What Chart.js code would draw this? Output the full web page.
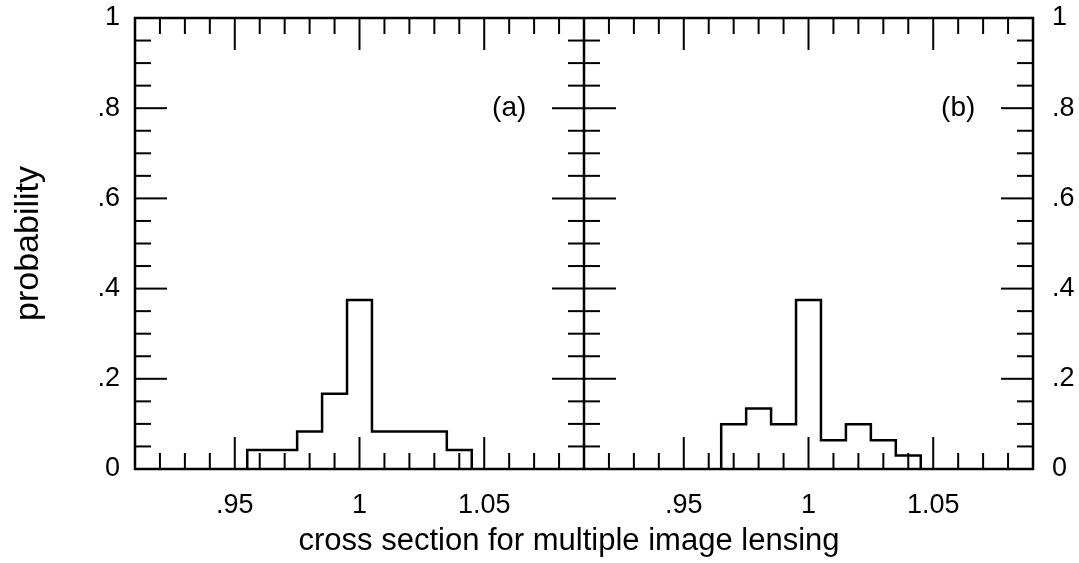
<!DOCTYPE html>
<html>
<head>
<meta charset="utf-8">
<script src="https://cdn.jsdelivr.net/npm/chart.js@4/dist/chart.umd.min.js"></script>
<style>
  html, body { margin: 0; padding: 0; background: #fff; }
  #wrap { width: 1079px; height: 563px; }
</style>
</head>
<body>
<div id="wrap"><canvas id="grafica"></canvas></div>
<script>
// histogram bins (bin centres, width 0.01)
const binsA = [0.96, 0.97, 0.98, 0.99, 1.00, 1.01, 1.02, 1.03, 1.04];
const probA = [0.042, 0.042, 0.083, 0.167, 0.375, 0.083, 0.083, 0.083, 0.042];
const binsB = [0.97, 0.98, 0.99, 1.00, 1.01, 1.02, 1.03, 1.04];
const probB = [0.099, 0.134, 0.099, 0.375, 0.064, 0.099, 0.064, 0.030];
const binWidth = 0.01;

const xTickValues = [0.95, 1, 1.05];
const xTickLabels = ['.95', '1', '1.05'];
const yTickValues = [0, 0.2, 0.4, 0.6, 0.8, 1];
const yTickLabels = ['0', '.2', '.4', '.6', '.8', '1'];
const panelLabels = ['(a)', '(b)'];
const xTitle = 'cross section for multiple image lensing';

const FONT = "'Liberation Sans', Arial, Helvetica, sans-serif";
Chart.defaults.color = '#000';
Chart.defaults.font.family = FONT;

// outline of a histogram as step points
function stepPoints(bins, vals) {
  const pts = [{ x: bins[0] - binWidth / 2, y: 0 }];
  bins.forEach((c, i) => pts.push({ x: c - binWidth / 2, y: vals[i] }));
  pts.push({ x: bins[bins.length - 1] + binWidth / 2, y: 0 });
  return pts;
}

function labelFor(values, labels) {
  return v => {
    const i = values.findIndex(t => Math.abs(t - v) < 1e-6);
    return i < 0 ? '' : labels[i];
  };
}
const isMajor = (values, v) => values.some(t => Math.abs(t - v) < 1e-6);

// ticks drawn inside the frame, frame, panel labels and x title
const frameTicks = {
  id: 'frameTicks',
  afterDatasetsDraw(chart) {
    const { ctx, chartArea: a, scales } = chart;
    const line = (x1, y1, x2, y2) => {
      ctx.beginPath(); ctx.moveTo(x1, y1); ctx.lineTo(x2, y2); ctx.stroke();
    };
    ctx.save();
    ctx.strokeStyle = '#000';
    ctx.lineWidth = 2;
    ['xa', 'xb'].forEach(id => {
      const s = scales[id];
      s.ticks.forEach(t => {
        const px = s.getPixelForValue(t.value);
        const len = isMajor(xTickValues, t.value) ? 32 : 16;
        line(px, a.bottom, px, a.bottom - len);
        line(px, a.top, px, a.top + len);
      });
    });
    const y = scales.y;
    const mid = scales.xa.right;
    y.ticks.forEach(t => {
      const py = y.getPixelForValue(t.value);
      const len = isMajor(yTickValues, t.value) ? 32 : 16;
      line(a.left, py, a.left + len, py);
      line(mid - len, py, mid + len, py);
      line(a.right - len, py, a.right, py);
    });
    ctx.lineWidth = 2.5;
    ctx.strokeRect(a.left, a.top, a.right - a.left, a.bottom - a.top);
    line(mid, a.top, mid, a.bottom);

    ctx.fillStyle = '#000';
    ctx.font = '28px ' + FONT;
    ctx.textAlign = 'center';
    ctx.textBaseline = 'middle';
    ['xa', 'xb'].forEach((id, i) => {
      ctx.fillText(panelLabels[i], scales[id].getPixelForValue(1.06), y.getPixelForValue(0.8));
    });

    ctx.font = '31px ' + FONT;
    ctx.fillText(xTitle, mid - 15, a.bottom + 72);
    ctx.restore();
  }
};

const xScale = () => ({
  type: 'linear',
  position: 'bottom',
  stack: 'panels',
  stackWeight: 1,
  min: 0.91,
  max: 1.09,
  grid: { display: false, drawTicks: false },
  border: { display: false },
  ticks: {
    stepSize: 0.01,
    autoSkip: false,
    maxRotation: 0,
    padding: 20,
    font: { size: 27 },
    callback: labelFor(xTickValues, xTickLabels)
  },
  afterFit: s => { s.height = 53; }
});

const yScale = (pos, w) => ({
  type: 'linear',
  position: pos,
  display: true,
  min: 0,
  max: 1,
  grid: { display: false, drawTicks: false },
  border: { display: false },
  ticks: {
    stepSize: 0.05,
    autoSkip: false,
    padding: pos === 'left' ? 15 : 19,
    font: { size: 27 },
    callback: labelFor(yTickValues, yTickLabels)
  },
  afterFit: s => {
    s.width = w;
    s.paddingTop = 0;
    s.paddingBottom = 0;
  }
});

const yLeft = yScale('left', 135);
yLeft.title = { display: true, text: 'probability', font: { size: 34 }, padding: { top: 8, bottom: 0 } };

new Chart(document.getElementById('grafica'), {
  type: 'line',
  data: {
    datasets: [
      {
        label: '(a)',
        data: stepPoints(binsA, probA),
        xAxisID: 'xa',
        yAxisID: 'y',
        stepped: 'before',
        borderColor: '#000',
        borderWidth: 2.5,
        pointRadius: 0,
        fill: false
      },
      {
        label: '(b)',
        data: stepPoints(binsB, probB),
        xAxisID: 'xb',
        yAxisID: 'y',
        stepped: 'before',
        borderColor: '#000',
        borderWidth: 2.5,
        pointRadius: 0,
        fill: false
      }
    ]
  },
  options: {
    responsive: true,
    maintainAspectRatio: false,
    animation: false,
    events: [],
    layout: { padding: { top: 18, left: 0, right: 0, bottom: 41 } },
    plugins: {
      legend: { display: false },
      tooltip: { enabled: false }
    },
    scales: {
      xa: xScale(),
      xb: xScale(),
      y: yLeft,
      yr: yScale('right', 46)
    }
  },
  plugins: [frameTicks]
});
</script>
</body>
</html>
